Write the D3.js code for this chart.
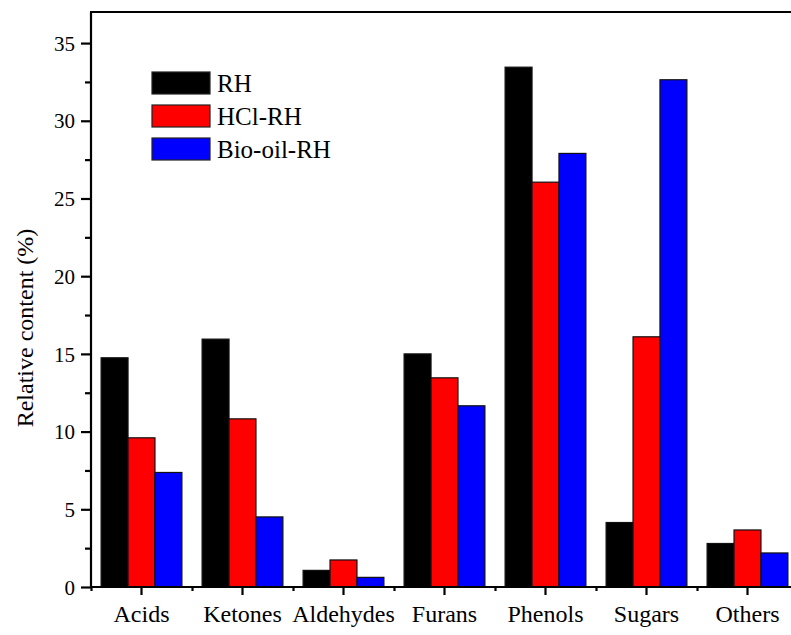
<!DOCTYPE html>
<html>
<head>
<meta charset="utf-8">
<script src="https://cdn.jsdelivr.net/npm/d3@7"></script>
<style>
  html, body { margin: 0; padding: 0; background: #fff; }
  svg { display: block; }
  text { font-family: "Liberation Serif", "Times New Roman", serif; fill: #000; }
</style>
</head>
<body>
<svg id="chart" width="791" height="635"></svg>
<script>
// Relative content of pyrolysis product groups (%)
const categories = ["Acids", "Ketones", "Aldehydes", "Furans", "Phenols", "Sugars", "Others"];
const seriesNames = ["RH", "HCl-RH", "Bio-oil-RH"];
const rhValues    = [14.75, 15.95, 1.07, 15.0, 33.45, 4.15, 2.8];
const hclValues   = [9.6, 10.82, 1.74, 13.46, 26.05, 16.1, 3.67];
const bioValues   = [7.37, 4.51, 0.62, 11.66, 27.9, 32.64, 2.19];
const yTicks = [0, 5, 10, 15, 20, 25, 30, 35];
const yMinorTicks = [2.5, 7.5, 12.5, 17.5, 22.5, 27.5, 32.5];
const colors = ["#000000", "#ff0000", "#0000ff"];

const seriesValues = [rhValues, hclValues, bioValues];
const serif = "'Liberation Serif', 'Times New Roman', serif";

const svg = d3.select("#chart");
const plotLeft = 91, plotRight = 798, plotTop = 12, plotBottom = 587;

const x = d3.scaleBand().domain(categories).range([plotLeft, plotRight]).padding(0);
const step = x.bandwidth();
const xs = d3.scaleBand().domain(seriesNames).range([0.1 * step, 0.9 * step]).padding(0);
const y = d3.scaleLinear().domain([0, 37]).range([plotBottom, plotTop]);

// bars
const groups = svg.append("g").selectAll("g")
  .data(categories)
  .join("g")
  .attr("transform", d => `translate(${x(d)},0)`);

groups.selectAll("rect")
  .data((d, i) => seriesNames.map((s, j) => ({ s, j, v: seriesValues[j][i] })))
  .join("rect")
  .attr("x", d => xs(d.s))
  .attr("width", xs.bandwidth())
  .attr("y", d => y(d.v))
  .attr("height", d => y(0) - y(d.v))
  .attr("fill", d => colors[d.j])
  .attr("stroke", "#111")
  .attr("stroke-width", 1.2);

// left axis
const yAxis = svg.append("g")
  .attr("transform", `translate(${plotLeft},0)`)
  .call(d3.axisLeft(y).tickValues(yTicks).tickSize(10).tickPadding(6).tickSizeOuter(0));
yAxis.attr("font-family", serif);
yAxis.select(".domain").remove();
yAxis.selectAll(".tick line").attr("stroke-width", 2.2);
yAxis.selectAll(".tick text").style("font-size", "21px").attr("dy", "0.34em")
  .style("font-family", serif);

const yMinor = svg.append("g")
  .attr("transform", `translate(${plotLeft},0)`)
  .call(d3.axisLeft(y).tickValues(yMinorTicks).tickSize(6).tickFormat(""));
yMinor.select(".domain").remove();
yMinor.selectAll(".tick line").attr("stroke-width", 2.2);

// bottom axis: major ticks at category centres, minor ticks at group boundaries
const xAxis = svg.append("g")
  .attr("transform", `translate(0,${plotBottom})`)
  .call(d3.axisBottom(x).tickSize(8).tickPadding(10).tickSizeOuter(0));
xAxis.attr("font-family", serif);
xAxis.select(".domain").remove();
xAxis.selectAll(".tick line").attr("stroke-width", 2.2);
xAxis.selectAll(".tick text").style("font-size", "24px")
  .style("font-family", serif);

const boundaries = categories.map(c => x(c));
const xMinor = d3.scaleLinear().domain([plotLeft, plotRight]).range([plotLeft, plotRight]);
const xMinorAxis = svg.append("g")
  .attr("transform", `translate(0,${plotBottom})`)
  .call(d3.axisBottom(xMinor).tickValues(boundaries).tickSize(4).tickFormat(""));
xMinorAxis.select(".domain").remove();
xMinorAxis.selectAll(".tick line").attr("stroke-width", 2.2);

// frame lines
svg.append("line").attr("x1", plotLeft).attr("x2", plotLeft).attr("y1", plotTop).attr("y2", plotBottom + 1)
  .attr("stroke", "#000").attr("stroke-width", 2.2);
svg.append("line").attr("x1", plotLeft - 1).attr("x2", plotRight).attr("y1", plotBottom).attr("y2", plotBottom)
  .attr("stroke", "#000").attr("stroke-width", 2.2);
svg.append("line").attr("x1", plotLeft - 1).attr("x2", plotRight).attr("y1", plotTop).attr("y2", plotTop)
  .attr("stroke", "#000").attr("stroke-width", 2.2);

// y axis title
svg.append("text")
  .attr("transform", "translate(33,328) rotate(-90)")
  .attr("text-anchor", "middle")
  .style("font-family", serif)
  .style("font-size", "24px")
  .text("Relative content (%)");

// legend
const legend = svg.append("g").attr("transform", "translate(152,72)");
const legendItems = legend.selectAll("g")
  .data(seriesNames)
  .join("g")
  .attr("transform", (d, i) => `translate(0,${i * 33})`);
legendItems.append("rect")
  .attr("width", 58).attr("height", 22)
  .attr("fill", (d, i) => colors[i])
  .attr("stroke", "#222").attr("stroke-width", 1.2);
legendItems.append("text")
  .attr("x", 65).attr("y", 19.5)
  .style("font-family", serif)
  .style("font-size", "25px")
  .text(d => d);
</script>
</body>
</html>
